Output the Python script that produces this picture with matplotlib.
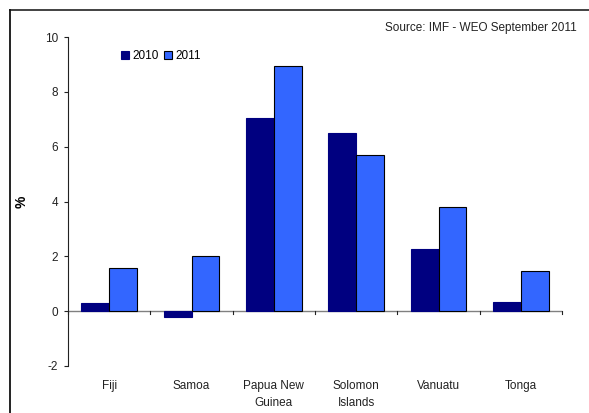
import matplotlib.pyplot as plt
import numpy as np
from matplotlib.lines import Line2D

plt.rcParams['font.family'] = ['Liberation Sans', 'DejaVu Sans']
plt.rcParams['axes.unicode_minus'] = False

countries = ["Fiji", "Samoa", "Papua New\nGuinea", "Solomon\nIslands", "Vanuatu", "Tonga"]
growth_2010 = [0.3, -0.2, 7.05, 6.5, 2.25, 0.35]
growth_2011 = [1.58, 2.02, 8.95, 5.7, 3.8, 1.45]

fig = plt.figure(figsize=(5.89, 4.13), dpi=100)
ax = fig.add_axes([68/589, 1-366/413, (562-68)/589, (366-37)/413])

x = np.arange(len(countries))
w = 0.34
ax.bar(x - w/2, growth_2010, w, color="#000080", edgecolor="#000080", linewidth=0.8, label="2010")
ax.bar(x + w/2, growth_2011, w, color="#3366FF", edgecolor="black", linewidth=0.8, label="2011")

ax.set_xlim(-0.5, len(countries) - 0.5)
ax.set_ylim(-2, 10)
ax.set_yticks([-2, 0, 2, 4, 6, 8, 10])
ax.tick_params(axis='y', labelsize=8.5, length=3, width=0.8, colors="#222222", pad=4)

# x axis line at zero with category separators
for s in ["top", "right", "bottom"]:
    ax.spines[s].set_visible(False)
ax.spines["left"].set_color("#222222")
ax.axhline(0, color="#808080", linewidth=1.0, zorder=0.5)
ax.set_xticks([])
for b in np.arange(len(countries) + 1) - 0.5:
    ax.plot([b, b], [0, -0.12], color="#222222", linewidth=0.8, clip_on=False)
for i, c in enumerate(countries):
    ax.text(i, -2.5, c, ha="center", va="top", fontsize=8.5, color="#222222", linespacing=1.6)

ax.set_ylabel("%", fontsize=10, fontweight="bold", labelpad=12)

ax.legend(loc="upper left", bbox_to_anchor=(0.09, 0.985), ncol=2, frameon=False,
          fontsize=8.5, handlelength=0.7, handleheight=0.7, handletextpad=0.25,
          columnspacing=0.5, borderpad=0.2)

fig.text(577/589, 1-28/413, "Source: IMF - WEO September 2011", ha="right", va="center",
         fontsize=8.5, color="#222222")

# outer frame: top and left lines only
fig.add_artist(Line2D([10/589, 1], [1-10/413, 1-10/413], color="#333333", linewidth=1.3))
fig.add_artist(Line2D([10/589, 10/589], [0, 1-10/413], color="#111111", linewidth=1.3))

fig.savefig("out.png", dpi=100)
